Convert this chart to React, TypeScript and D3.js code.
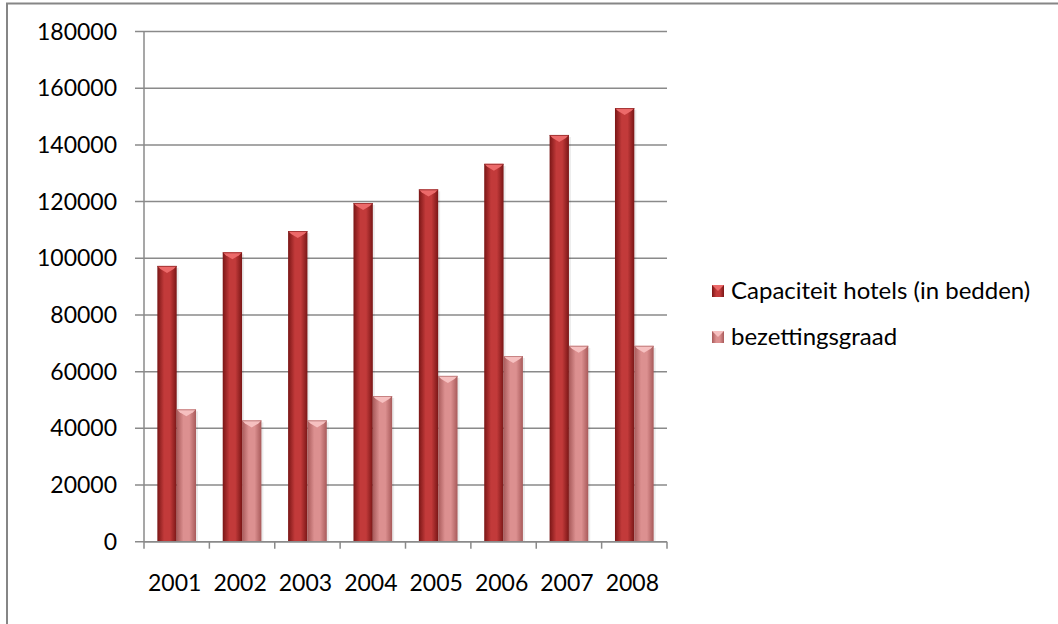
import React from 'react';
import * as d3 from 'd3';

// data
const years = ['2001', '2002', '2003', '2004', '2005', '2006', '2007', '2008'];
const capaciteit = [97300, 102100, 109600, 119500, 124300, 133300, 143500, 153000];
const bezetting = [46700, 42800, 42800, 51400, 58500, 65500, 69100, 69100];
const seriesNames = ['Capaciteit hotels (in bedden)', 'bezettingsgraad'];
const yTicks = [0, 20000, 40000, 60000, 80000, 100000, 120000, 140000, 160000, 180000];

const W = 1058;
const H = 624;
const FONT = 'Lato, "Open Sans", sans-serif';

const looks = [
  { id: 'gCap', edge: '#7a1616', mid: '#c23a3a', cap: '#ec6a6a' },
  { id: 'gBez', edge: '#a85a5a', mid: '#dc9090', cap: '#f6c0c0' },
];

const App = () => {
  const left = 144, right = 667, top = 31.5, bottom = 541.7;

  const x = d3.scaleBand().domain(years).range([left, right]);
  const sub = d3.scaleBand().domain(seriesNames).range([0, x.bandwidth()]).paddingOuter(0.69);
  const y = d3.scaleLinear().domain([0, 180000]).range([bottom, top]);

  const values = [capaciteit, bezetting];
  const boundaries = years.map(yr => x(yr)).concat([right]);

  const bar = (si, yr, v) => {
    const bx = x(yr) + sub(seriesNames[si]);
    const bw = sub.bandwidth();
    const by = y(v);
    const lk = looks[si];
    return (
      <g key={si + yr}>
        <rect x={bx + 2} y={by + 2} width={bw} height={bottom - by - 2} fill="#000" opacity={0.08} />
        <rect x={bx} y={by} width={bw} height={bottom - by} fill={`url(#${lk.id})`} />
        <polygon
          points={`${bx},${by} ${bx + bw},${by} ${bx + bw - 3},${by + 3} ${bx + bw / 2},${by + 7} ${bx + 3},${by + 3}`}
          fill={lk.cap}
        />
        <line x1={bx} x2={bx + bw} y1={by + 0.5} y2={by + 0.5} stroke={lk.edge} strokeWidth={1} opacity={0.6} />
      </g>
    );
  };

  return (
    <svg width={W} height={H} style={{ position: 'absolute', left: 0, top: 0, background: '#fff' }}>
      <defs>
        {looks.map(lk => (
          <linearGradient key={lk.id} id={lk.id} x1="0" x2="1" y1="0" y2="0">
            <stop offset="0%" stopColor={lk.edge} />
            <stop offset="35%" stopColor={lk.mid} />
            <stop offset="65%" stopColor={lk.mid} />
            <stop offset="100%" stopColor={lk.edge} />
          </linearGradient>
        ))}
      </defs>

      {/* chart frame, only top and left visible */}
      <line x1={6} x2={W} y1={3.5} y2={3.5} stroke="#868686" strokeWidth={2} />
      <line x1={7} x2={7} y1={3} y2={H} stroke="#868686" strokeWidth={2} />

      {/* gridlines + y ticks */}
      {yTicks.map(t => (
        <g key={t}>
          <line x1={135} x2={right} y1={y(t)} y2={y(t)} stroke="#8a8a8a" strokeWidth={1.5} />
          <text x={117} y={y(t)} dy="0.35em" textAnchor="end" fontFamily={FONT} fontSize={23} fill="#000">
            {t}
          </text>
        </g>
      ))}
      <line x1={left} x2={left} y1={top} y2={bottom} stroke="#8a8a8a" strokeWidth={1.5} />

      {/* bars */}
      {years.map((yr, i) => values.map((vals, si) => bar(si, yr, vals[i])))}

      {/* x axis */}
      <line x1={left} x2={right} y1={bottom} y2={bottom} stroke="#8a8a8a" strokeWidth={1.5} />
      {boundaries.map((b, i) => (
        <line key={i} x1={b} x2={b} y1={bottom} y2={bottom + 7} stroke="#8a8a8a" strokeWidth={1.5} />
      ))}
      {years.map(yr => (
        <text key={yr} x={x(yr) + x.bandwidth() / 2 - 2} y={583} dy="0.35em" textAnchor="middle" fontFamily={FONT} fontSize={23} fill="#000">
          {yr}
        </text>
      ))}

      {/* legend */}
      {seriesNames.map((name, si) => {
        const ly = 291 + si * 46;
        const lk = looks[si];
        return (
          <g key={name}>
            <rect x={712} y={ly - 6} width={12} height={12} fill={`url(#${lk.id})`} />
            <polygon points={`712,${ly - 6} 724,${ly - 6} 718,${ly}`} fill={lk.cap} />
            <text x={731} y={ly} dy="0.35em" fontFamily={FONT} fontSize={24} fill="#000">
              {name}
            </text>
          </g>
        );
      })}
    </svg>
  );
};

export default App;
